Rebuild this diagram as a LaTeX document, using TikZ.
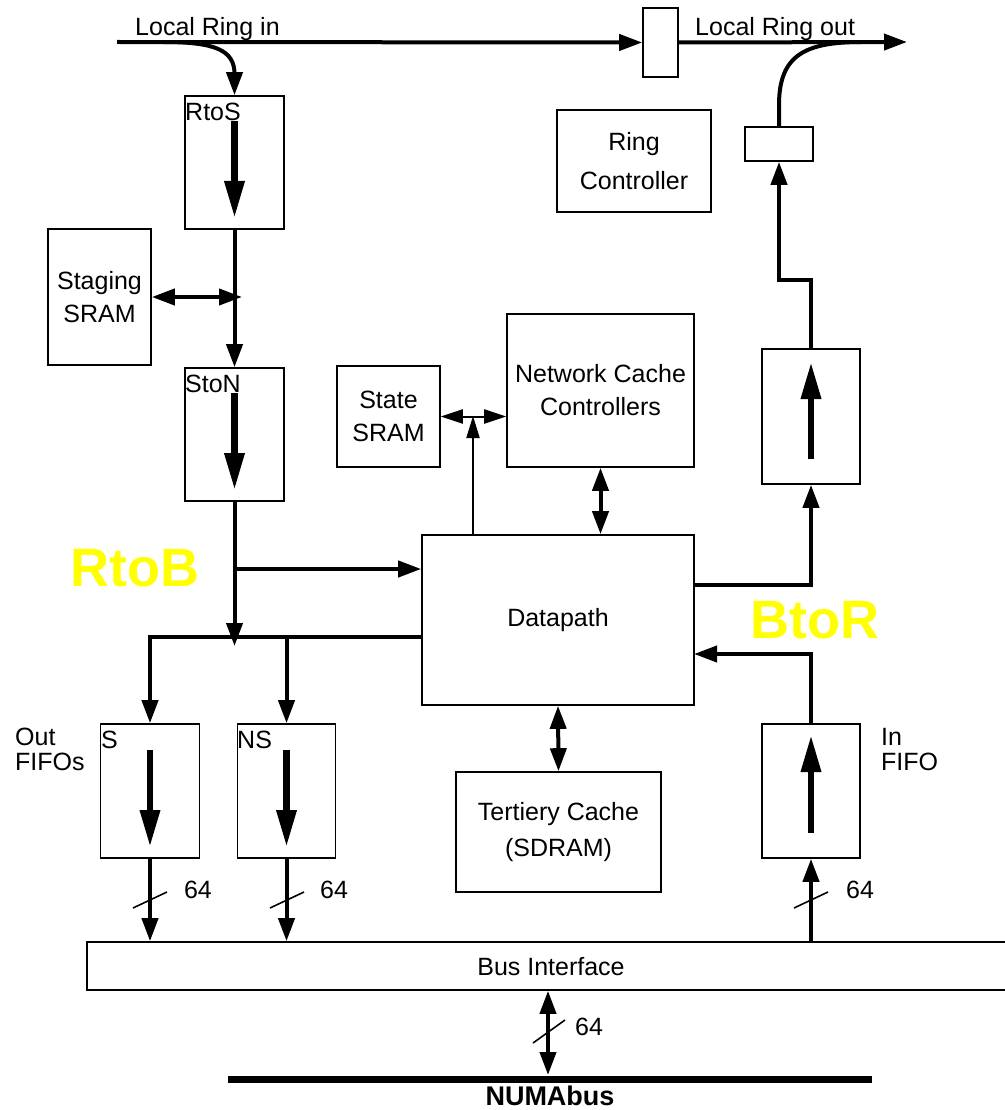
\documentclass[tikz,border=0pt]{standalone}
\usepackage{fontspec}
\setmainfont{Liberation Sans}
\usetikzlibrary{arrows.meta}
\begin{document}
\begin{tikzpicture}[x=1pt,y=-1pt,
  box/.style={draw, line width=1.6pt, inner sep=0pt, align=center, font=\fontsize{25}{33}\selectfont},
  txt/.style={inner sep=0pt, align=left, font=\fontsize{25}{25}\selectfont},
  wire/.style={line width=4pt},
  bus/.style={line width=4pt, -{Triangle[length=23pt,width=16pt]}},
  dbl/.style={line width=4pt, {Triangle[length=23pt,width=16pt]}-{Triangle[length=23pt,width=16pt]}},
  thinarr/.style={line width=2pt, -{Triangle[length=22pt,width=13pt]}},
  thindbl/.style={line width=2pt, {Triangle[length=22pt,width=14pt]}-{Triangle[length=22pt,width=14pt]}},
  innerarr/.style={line width=6.5pt, -{Triangle[length=37pt,width=19pt]}},
  slash/.style={line width=1.6pt},
  yel/.style={inner sep=0pt, text={rgb,255:red,255;green,255;blue,0}, font=\fontsize{54}{60}\selectfont\bfseries}]
\useasboundingbox (0,0) rectangle (1004,1110);

% boxes
\node[box, minimum width=35pt, minimum height=69pt] (ringbox) at (660.5,42.5) {};
\node[box, minimum width=99pt, minimum height=133pt] (rtos) at (234.5,162.5) {};
\node[box, minimum width=103pt, minimum height=136pt] (staging) at (99.5,297) {Staging\\SRAM};
\node[box, minimum width=99pt, minimum height=133pt] (ston) at (234.5,434.5) {};
\node[box, minimum width=103pt, minimum height=101pt] (state) at (388.5,416.5) {State\\SRAM};
\node[box, minimum width=187pt, minimum height=153pt] (ncc) at (600.5,390.5) {Network Cache\\Controllers};
\node[box, minimum width=154pt, minimum height=102pt, font=\fontsize{25}{39}\selectfont] (ringctl) at (634,161) {Ring\\Controller};
\node[box, minimum width=68pt, minimum height=34pt] (smallbox) at (779,144) {};
\node[box, minimum width=98pt, minimum height=135pt] (bupper) at (811,416.5) {};
\node[box, minimum width=272pt, minimum height=170pt] (dp) at (558,620) {Datapath};
\node[box, minimum width=205pt, minimum height=120pt, font=\fontsize{25}{36}\selectfont] (tert) at (558.5,832) {Tertiery Cache\\(SDRAM)};
\node[box, minimum width=99pt, minimum height=134pt] (sfifo) at (150,791) {};
\node[box, minimum width=98pt, minimum height=134pt] (nsfifo) at (286.5,791) {};
\node[box, minimum width=98pt, minimum height=134pt] (infifo) at (811,791) {};
\node[box, minimum width=930pt, minimum height=48pt] (bus) at (552,966) {};
\node[txt] (buslbl) at (551,967) {Bus Interface};

% labels
\node[txt, anchor=west] (lri) at (135,29) {Local Ring in};
\node[txt, anchor=west] (lro) at (695,29) {Local Ring out};
\node[txt, anchor=north west] (rtoslbl) at (185,103) {RtoS};
\node[txt, anchor=north west] (stonlbl) at (185,375) {StoN};
\node[txt, anchor=north west] (slbl) at (101,731) {S};
\node[txt, anchor=north west] (nslbl) at (237,731) {NS};
\node[txt, anchor=north west] (outlbl) at (15,728) {Out\\FIFOs};
\node[txt, anchor=north west] (inlbl) at (881,728) {In\\FIFO};
\node[yel] (rtob) at (135,568) {RtoB};
\node[yel] (btor) at (815,620) {BtoR};

% top ring
\coordinate (ringin) at (117,42);
\coordinate (ringout) at (907,42);
\draw[bus] (ringin) -- (ringbox.west);
\draw[bus] (ringbox.east) -- (ringout);
\draw[bus] (163,42) .. controls (215,42) and (234.5,50) .. (234.5,74) -- (rtos.north);
\draw[wire] (smallbox.north) -- (779,105) .. controls (779,55) and (805,42) .. (862,42);

% left column
\coordinate (sj) at (242,297);
\draw[dbl] (staging.east |- sj) -- (sj);
\draw[bus] (rtos.south) -- (ston.north);
\coordinate (jn) at (234.5,646);
\draw[bus] (ston.south) -- (jn);
\coordinate (br) at (234.5,569);
\draw[bus] (br) -- (dp.west |- br);
\coordinate (hl) at (422,637);
\coordinate (hs) at (150,637);
\coordinate (hns) at (286.5,637);
\draw[bus] (hl) -- (hs) -- (sfifo.north);
\draw[bus] (hns) -- (nsfifo.north);

% inner arrows
\draw[innerarr] (234.5,121) -- (234.5,218);
\draw[innerarr] (234.5,393) -- (234.5,490);
\draw[innerarr] (150,750) -- (150,847);
\draw[innerarr] (286.5,750) -- (286.5,847);
\draw[innerarr] (811,459) -- (811,362);
\draw[innerarr] (811,833) -- (811,735);

% middle
\coordinate (tv) at (473,416);
\draw[thindbl] (state.east) -- (ncc.west |- state.east);
\draw[thinarr] (tv |- dp.north) -- (tv);
\draw[dbl] (ncc.south) -- (dp.north -| ncc.south);
\draw[dbl] (dp.south) -- (tert.north);

% right column
\coordinate (dpo) at (694,585);
\coordinate (dpi) at (694,654);
\draw[bus] (dpo) -- (811,585) -- (bupper.south);
\draw[bus] (infifo.north) -- (811,654) -- (dpi);
\draw[bus] (bupper.north) -- (811,280) -- (779,280) -- (smallbox.south);

% bus connections
\draw[bus] (sfifo.south) -- (sfifo.south |- bus.north);
\draw[bus] (nsfifo.south) -- (nsfifo.south |- bus.north);
\draw[bus] (infifo.south |- bus.north) -- (infifo.south);
\coordinate (nb) at (548,1075);
\draw[dbl] (bus.south -| nb) -- (nb);
\draw[line width=7pt] (228,1079) -- (872,1079);
\node[inner sep=0pt, font=\fontsize{27}{27}\selectfont\bfseries] (numa) at (550,1096) {NUMAbus};

% width marks
\draw[slash] (133,908) -- (167,892);
\draw[slash] (270,908) -- (304,892);
\draw[slash] (794,908) -- (828,892);
\draw[slash] (533,1043) -- (565,1020);
\node[txt] (w1) at (198,890) {64};
\node[txt] (w2) at (334,890) {64};
\node[txt] (w3) at (860,890) {64};
\node[txt] (w4) at (589,1027) {64};
\end{tikzpicture}
\end{document}
